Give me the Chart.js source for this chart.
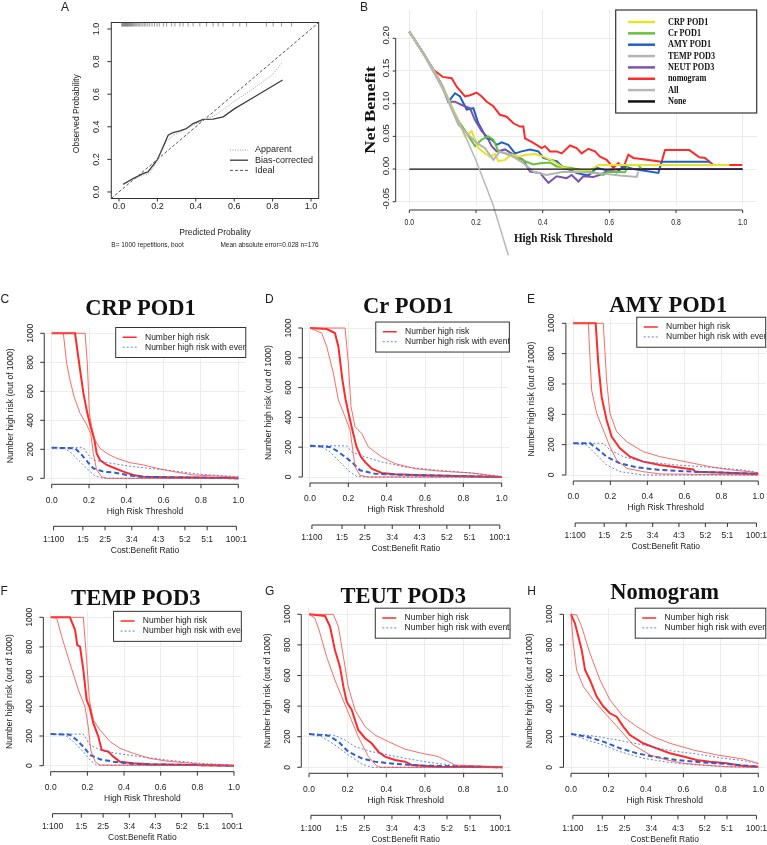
<!DOCTYPE html>
<html>
<head>
<meta charset="utf-8">
<title>Calibration, decision curve and clinical impact curves</title>
<script src="https://cdn.jsdelivr.net/npm/chart.js"></script>
<style>
body { margin: 0; background: #fff; width: 767px; height: 845px; position: relative; overflow: hidden; }
canvas { position: absolute; }
</style>
</head>
<body>
<canvas id="calChart"></canvas>
<canvas id="nbChart"></canvas>
<canvas id="cicC"></canvas>
<canvas id="cicD"></canvas>
<canvas id="cicE"></canvas>
<canvas id="cicF"></canvas>
<canvas id="cicG"></canvas>
<canvas id="cicH"></canvas>
<script>
// ---- data: panel A, calibration ----
var probTicks = [0, 0.2, 0.4, 0.6, 0.8, 1];
var probLabels = ["0.0", "0.2", "0.4", "0.6", "0.8", "1.0"];
var idealLine = [[-0.04, -0.04], [1.04, 1.04]];
var apparentCurve = [[0.021, 0.045], [0.073, 0.078], [0.125, 0.102], [0.16, 0.113], [0.2, 0.195], [0.247, 0.307], [0.282, 0.348], [0.325, 0.369], [0.369, 0.4], [0.421, 0.43], [0.5, 0.47], [0.6, 0.555], [0.7, 0.635], [0.8, 0.72], [0.847, 0.789]];
var biasCurve = [[0.021, 0.047], [0.073, 0.082], [0.125, 0.113], [0.151, 0.123], [0.2, 0.199], [0.23, 0.277], [0.256, 0.348], [0.282, 0.365], [0.317, 0.375], [0.351, 0.389], [0.386, 0.42], [0.438, 0.445], [0.49, 0.447], [0.543, 0.461], [0.6, 0.51], [0.7, 0.58], [0.8, 0.65], [0.852, 0.687]];
var rugPred = [0.014, 0.018, 0.022, 0.025, 0.028, 0.032, 0.035, 0.038, 0.041, 0.045, 0.048, 0.052, 0.055, 0.06, 0.064, 0.068, 0.072, 0.077, 0.082, 0.088, 0.094, 0.1, 0.108, 0.115, 0.124, 0.132, 0.14, 0.15, 0.16, 0.172, 0.185, 0.198, 0.21, 0.231, 0.248, 0.274, 0.291, 0.317, 0.334, 0.36, 0.386, 0.421, 0.456, 0.49, 0.516, 0.542, 0.594, 0.629, 0.664, 0.768, 0.803, 0.846, 0.898];
var calLegend = ["Apparent", "Bias-corrected", "Ideal"];

// ---- data: panel B, net benefit ----
var nbTicks = [-0.05, 0, 0.05, 0.1, 0.15, 0.2];
var nbLabels = ["-0.05", "0.00", "0.05", "0.10", "0.15", "0.20"];
var nbSeriesNames = ["CRP POD1", "Cr POD1", "AMY POD1", "TEMP POD3", "NEUT POD3", "nomogram", "All", "None"];
var crpNB = [[0, 0.21], [0.042, 0.177], [0.072, 0.152], [0.1, 0.126], [0.122, 0.101], [0.142, 0.08], [0.167, 0.05], [0.187, 0.058], [0.207, 0.032], [0.227, 0.024], [0.242, 0.019], [0.257, 0.023], [0.267, 0.012], [0.287, 0.014], [0.307, 0.022], [0.327, 0.019], [0.352, 0.022], [0.377, 0.023], [0.402, 0.019], [0.432, 0.012], [0.462, 0.002], [0.497, -0.001], [0.542, -0.002], [0.567, 0.006], [0.96, 0.006]];
var crNB = [[0, 0.21], [0.042, 0.177], [0.072, 0.152], [0.1, 0.126], [0.122, 0.101], [0.142, 0.078], [0.172, 0.055], [0.197, 0.035], [0.217, 0.045], [0.237, 0.05], [0.252, 0.045], [0.267, 0.027], [0.287, 0.024], [0.312, 0.019], [0.337, 0.014], [0.357, 0.01], [0.372, 0.007], [0.392, 0.009], [0.422, 0.01], [0.442, 0.004], [0.482, 0.002], [0.542, -0.004], [0.582, -0.009], [0.597, -0.004], [0.647, -0.005], [0.657, 0.006], [0.687, 0.006], [0.697, 0]];
var amyNB = [[0, 0.21], [0.042, 0.177], [0.072, 0.152], [0.1, 0.126], [0.117, 0.103], [0.137, 0.116], [0.152, 0.111], [0.172, 0.091], [0.192, 0.093], [0.207, 0.07], [0.232, 0.047], [0.247, 0.045], [0.262, 0.037], [0.277, 0.041], [0.297, 0.037], [0.317, 0.024], [0.337, 0.027], [0.362, 0.03], [0.387, 0.027], [0.402, 0.017], [0.422, 0.014], [0.442, 0.012], [0.462, 0.002], [0.482, -0.001], [0.502, -0.006], [0.537, -0.01], [0.562, 0.002], [0.592, -0.002], [0.622, -0.005], [0.642, 0.004], [0.672, 0], [0.747, -0.006], [0.757, 0.011], [0.902, 0.011]];
var tempNB = [[0, 0.21], [0.042, 0.177], [0.072, 0.152], [0.1, 0.126], [0.127, 0.091], [0.147, 0.068], [0.172, 0.055], [0.202, 0.04], [0.227, 0.032], [0.252, 0.014], [0.272, 0.027], [0.302, 0.022], [0.342, 0.009], [0.372, -0.004], [0.412, -0.009], [0.462, -0.004], [0.522, -0.005], [0.582, -0.007], [0.632, -0.01], [0.682, -0.012], [0.687, -0.004]];
var neutNB = [[0, 0.21], [0.042, 0.177], [0.062, 0.159], [0.092, 0.134], [0.117, 0.103], [0.137, 0.103], [0.157, 0.098], [0.182, 0.093], [0.197, 0.075], [0.217, 0.058], [0.232, 0.05], [0.247, 0.035], [0.262, 0.027], [0.287, 0.03], [0.312, 0.022], [0.342, 0.014], [0.362, -0.004], [0.392, -0.006], [0.417, -0.021], [0.442, -0.011], [0.472, -0.014], [0.487, -0.009], [0.507, -0.019], [0.522, -0.011], [0.552, -0.012], [0.572, -0.009], [0.602, -0.001], [0.642, 0], [1, 0]];
var nomoNB = [[0, 0.21], [0.042, 0.177], [0.072, 0.152], [0.1, 0.141], [0.127, 0.139], [0.142, 0.126], [0.167, 0.111], [0.182, 0.113], [0.202, 0.117], [0.217, 0.111], [0.232, 0.103], [0.252, 0.096], [0.272, 0.083], [0.292, 0.08], [0.312, 0.07], [0.332, 0.065], [0.342, 0.065], [0.347, 0.047], [0.372, 0.04], [0.397, 0.032], [0.407, 0.035], [0.422, 0.027], [0.442, 0.027], [0.457, 0.024], [0.482, 0.036], [0.502, 0.032], [0.517, 0.024], [0.537, 0.031], [0.557, 0.027], [0.572, 0.019], [0.592, 0.014], [0.612, 0.002], [0.627, 0.009], [0.642, 0.002], [0.657, 0.022], [0.672, 0.017], [0.702, 0.015], [0.757, 0.011], [0.767, 0.029], [0.84, 0.029], [0.87, 0.018], [0.887, 0.017], [0.912, 0.006], [0.999, 0.006]];
var allNB = [[0, 0.21], [0.05, 0.168], [0.1, 0.122], [0.15, 0.071], [0.2, 0.013], [0.25, -0.053], [0.297, -0.132]];
var noneNB = [[0, 0], [1, 0]];

// ---- data: panels C-H, clinical impact ----
var thresholdTicks = [0, 0.2, 0.4, 0.6, 0.8, 1];
var thresholdLabels = ["0.0", "0.2", "0.4", "0.6", "0.8", "1.0"];
var riskTicks = [0, 200, 400, 600, 800, 1000];
var riskLabels = ["0", "200", "400", "600", "800", "1000"];
var costBenefitAt = [0.01, 0.167, 0.286, 0.429, 0.571, 0.714, 0.833, 0.99];
var costBenefitLabels = ["1:100", "1:5", "2:5", "3:4", "4:3", "5:2", "5:1", "100:1"];
var cicLegend = ["Number high risk", "Number high risk with event"];

var crpRisk = [[0, 1000], [0.125, 1000], [0.152, 747], [0.17, 586], [0.191, 448], [0.209, 356], [0.229, 264], [0.241, 172], [0.259, 126], [0.295, 92], [0.339, 69], [0.384, 46], [0.437, 23], [0.491, 11], [0.616, 7], [0.795, 5], [1, 0]];
var crpRiskHi = [[0, 1000], [0.179, 1000], [0.191, 793], [0.202, 448], [0.214, 356], [0.232, 264], [0.259, 207], [0.295, 172], [0.348, 138], [0.42, 108], [0.491, 92], [0.563, 69], [0.652, 46], [0.759, 23], [0.884, 16], [1, 7]];
var crpRiskLo = [[0, 1000], [0.0625, 1000], [0.08, 793], [0.098, 678], [0.12, 563], [0.152, 448], [0.184, 379], [0.209, 310], [0.223, 172], [0.241, 57], [0.268, 11], [0.295, 0], [1, 0]];
var crpEvent = [[0, 211], [0.125, 207], [0.161, 161], [0.191, 115], [0.223, 69], [0.277, 46], [0.339, 39], [0.402, 23], [0.473, 11], [0.616, 7], [1, 0]];
var crpEventHi = [[0, 211], [0.17, 211], [0.196, 161], [0.223, 126], [0.295, 108], [0.437, 80], [0.616, 57], [0.795, 28], [1, 11]];
var crpEventLo = [[0, 211], [0.071, 207], [0.107, 172], [0.152, 115], [0.196, 57], [0.232, 16], [0.277, 0], [1, 0]];

var crRisk = [[0, 1000], [0.087, 993], [0.13, 966], [0.148, 876], [0.169, 652], [0.186, 517], [0.205, 404], [0.221, 315], [0.243, 202], [0.266, 135], [0.287, 101], [0.322, 56], [0.374, 27], [0.443, 18], [0.583, 11], [0.757, 7], [1, 0]];
var crRiskHi = [[0, 1000], [0.183, 1000], [0.2, 764], [0.214, 472], [0.235, 337], [0.27, 292], [0.304, 202], [0.374, 135], [0.443, 90], [0.548, 56], [0.67, 40], [0.843, 27], [1, 0]];
var crRiskLo = [[0, 1000], [0.061, 966], [0.087, 876], [0.122, 697], [0.148, 517], [0.183, 404], [0.209, 315], [0.221, 202], [0.235, 67], [0.261, 11], [0.304, 0], [1, 0]];
var crEvent = [[0, 209], [0.104, 202], [0.148, 169], [0.183, 135], [0.217, 101], [0.261, 45], [0.339, 22], [0.443, 16], [0.617, 11], [1, 0]];
var crEventHi = [[0, 209], [0.191, 209], [0.217, 169], [0.287, 135], [0.374, 101], [0.496, 67], [0.67, 45], [0.843, 27], [1, 4]];
var crEventLo = [[0, 209], [0.061, 202], [0.104, 169], [0.165, 90], [0.209, 34], [0.243, 4], [0.3, 0], [1, 0]];

var amyRisk = [[0, 1000], [0.121, 1000], [0.135, 736], [0.153, 516], [0.18, 363], [0.207, 253], [0.252, 176], [0.306, 121], [0.378, 88], [0.468, 66], [0.559, 51], [0.649, 37], [0.658, 22], [0.829, 15], [1, 7]];
var amyRiskHi = [[0, 1000], [0.162, 1000], [0.18, 626], [0.198, 407], [0.234, 286], [0.288, 220], [0.378, 154], [0.468, 121], [0.559, 99], [0.649, 77], [0.739, 55], [0.829, 37], [1, 15]];
var amyRiskLo = [[0, 1000], [0.081, 1000], [0.099, 560], [0.126, 407], [0.162, 297], [0.198, 187], [0.234, 99], [0.288, 44], [0.378, 22], [0.468, 7], [1, 0]];
var amyEvent = [[0, 209], [0.09, 209], [0.126, 176], [0.18, 121], [0.252, 77], [0.342, 51], [0.468, 33], [0.649, 22], [0.829, 15], [1, 7]];
var amyEventHi = [[0, 209], [0.162, 209], [0.198, 165], [0.27, 121], [0.378, 88], [0.559, 66], [0.739, 51], [0.919, 33], [1, 15]];
var amyEventLo = [[0, 209], [0.072, 198], [0.126, 132], [0.18, 66], [0.252, 22], [0.378, 0], [1, 0]];

var tempRisk = [[0, 1000], [0.105, 1000], [0.133, 915], [0.145, 813], [0.16, 802], [0.178, 645], [0.196, 443], [0.211, 398], [0.233, 285], [0.26, 196], [0.278, 106], [0.315, 94], [0.342, 61], [0.378, 27], [0.451, 16], [0.542, 9], [1, 0]];
var tempRiskHi = [[0, 1000], [0.178, 1000], [0.196, 712], [0.211, 443], [0.233, 308], [0.269, 240], [0.324, 162], [0.378, 117], [0.451, 83], [0.542, 49], [0.633, 31], [0.815, 11], [1, 0]];
var tempRiskLo = [[0, 1000], [0.033, 993], [0.06, 870], [0.105, 690], [0.151, 510], [0.187, 398], [0.205, 263], [0.218, 106], [0.242, 27], [0.269, 4], [1, 0]];
var tempEvent = [[0, 213], [0.105, 209], [0.142, 173], [0.178, 128], [0.215, 72], [0.269, 43], [0.342, 27], [0.451, 11], [1, 0]];
var tempEventHi = [[0, 213], [0.178, 213], [0.215, 139], [0.269, 106], [0.36, 83], [0.487, 61], [0.633, 38], [0.815, 16], [1, 4]];
var tempEventLo = [[0, 213], [0.078, 207], [0.124, 162], [0.178, 94], [0.215, 38], [0.251, 4], [1, 0]];

var neutRisk = [[0, 1000], [0.083, 989], [0.109, 919], [0.134, 767], [0.16, 658], [0.178, 527], [0.195, 429], [0.221, 375], [0.255, 244], [0.29, 190], [0.324, 157], [0.359, 102], [0.393, 70], [0.445, 48], [0.497, 37], [0.531, 15], [0.669, 4], [1, 0]];
var neutRiskHi = [[0, 1000], [0.126, 1000], [0.152, 919], [0.178, 723], [0.203, 527], [0.238, 375], [0.29, 266], [0.341, 211], [0.41, 168], [0.497, 118], [0.583, 92], [0.669, 70], [0.721, 37], [0.755, 15], [1, 4]];
var neutRiskLo = [[0, 1000], [0.031, 974], [0.057, 876], [0.091, 723], [0.134, 571], [0.169, 462], [0.212, 331], [0.255, 200], [0.307, 70], [0.35, 9], [0.37, 0], [1, 0]];
var neutEvent = [[0, 218], [0.1, 207], [0.152, 168], [0.203, 102], [0.272, 59], [0.341, 37], [0.445, 22], [0.583, 11], [1, 0]];
var neutEventHi = [[0, 218], [0.126, 211], [0.186, 179], [0.238, 135], [0.324, 102], [0.41, 81], [0.497, 59], [0.617, 33], [0.755, 11], [1, 0]];
var neutEventLo = [[0, 218], [0.066, 200], [0.134, 146], [0.203, 81], [0.272, 22], [0.324, 0], [1, 0]];

var nomoRisk = [[0, 1000], [0.021, 941], [0.044, 832], [0.057, 767], [0.075, 636], [0.101, 571], [0.137, 462], [0.173, 397], [0.208, 353], [0.244, 331], [0.279, 266], [0.315, 211], [0.386, 157], [0.457, 124], [0.528, 92], [0.6, 70], [0.671, 48], [0.742, 37], [0.831, 26], [0.92, 9], [1, 4]];
var nomoRiskHi = [[0, 1000], [0.03, 996], [0.057, 919], [0.101, 745], [0.155, 571], [0.208, 440], [0.279, 331], [0.351, 266], [0.439, 200], [0.528, 157], [0.653, 113], [0.778, 81], [0.92, 54], [1, 26]];
var nomoRiskLo = [[0, 1000], [0.012, 810], [0.03, 636], [0.066, 527], [0.119, 440], [0.19, 342], [0.262, 244], [0.333, 146], [0.422, 81], [0.511, 48], [0.6, 26], [0.706, 15], [0.831, 4], [1, 0]];
var nomoEvent = [[0, 218], [0.084, 200], [0.173, 168], [0.262, 124], [0.351, 92], [0.439, 70], [0.564, 48], [0.706, 31], [0.831, 22], [1, 4]];
var nomoEventHi = [[0, 218], [0.119, 205], [0.244, 179], [0.386, 146], [0.528, 109], [0.671, 87], [0.813, 59], [0.92, 44], [1, 22]];
var nomoEventLo = [[0, 218], [0.084, 179], [0.173, 146], [0.262, 102], [0.386, 59], [0.528, 31], [0.671, 15], [0.831, 4], [1, 0]];

// ---- helpers ----
var SANS = "'Liberation Sans', Arial, sans-serif";
var SERIF = "'Liberation Serif', 'Times New Roman', serif";
var INK = "#222";

function pts(a) { return a.map(function (p) { return { x: p[0], y: p[1] }; }); }

function ds(data, color, width, dash, extra) {
	var d = { data: pts(data), borderColor: color, borderWidth: width, borderDash: dash || [], pointRadius: 0, tension: 0, fill: false };
	if (extra) { for (var k in extra) d[k] = extra[k]; }
	return d;
}

function txt(ctx, s, x, y, font, opt) {
	opt = opt || {};
	ctx.save();
	ctx.font = font;
	ctx.fillStyle = opt.color || INK;
	ctx.textAlign = opt.align || "center";
	ctx.textBaseline = opt.base || "middle";
	ctx.translate(x, y);
	if (opt.rot) ctx.rotate(opt.rot);
	if (opt.sx) ctx.scale(opt.sx, 1);
	ctx.fillText(s, 0, 0);
	ctx.restore();
}

function seg(ctx, x1, y1, x2, y2, color, w, dash) {
	ctx.save();
	ctx.strokeStyle = color || "#333";
	ctx.lineWidth = w || 1;
	ctx.setLineDash(dash || []);
	ctx.beginPath();
	ctx.moveTo(x1, y1);
	ctx.lineTo(x2, y2);
	ctx.stroke();
	ctx.restore();
}

// R style axes: the line runs from first to last tick only
function axisX(ctx, scale, at, labels, y, tick, labelY, font, sx) {
	var a = scale.getPixelForValue(at[0]), b = scale.getPixelForValue(at[at.length - 1]);
	seg(ctx, a, y, b, y, "#333", 1);
	at.forEach(function (v, i) {
		var p = scale.getPixelForValue(v);
		seg(ctx, p, y, p, y + tick, "#333", 1);
		txt(ctx, labels[i], p, labelY, font, { sx: sx });
	});
}

function axisY(ctx, scale, at, labels, x, tick, labelX, font, dy) {
	var a = scale.getPixelForValue(at[0]), b = scale.getPixelForValue(at[at.length - 1]);
	seg(ctx, x, a, x, b, "#333", 1);
	at.forEach(function (v, i) {
		var p = scale.getPixelForValue(v);
		seg(ctx, x - tick, p, x, p, "#333", 1);
		txt(ctx, labels[i], labelX, p + (dy || 0), font, { rot: -Math.PI / 2 });
	});
}

function place(id, left, top, w, h) {
	var cv = document.getElementById(id);
	cv.width = w; cv.height = h;
	cv.style.left = left + "px"; cv.style.top = top + "px";
	cv.style.width = w + "px"; cv.style.height = h + "px";
	return cv;
}

function baseOptions(pad, scales) {
	return {
		responsive: false, animation: false, devicePixelRatio: 1, events: [],
		layout: { padding: pad },
		plugins: { legend: { display: false }, tooltip: { enabled: false } },
		scales: scales
	};
}

function gridScale(min, max, ticks, color) {
	return {
		type: "linear", min: min, max: max,
		afterBuildTicks: function (s) { s.ticks = ticks.map(function (v) { return { value: v }; }); },
		ticks: { display: false }, border: { display: false },
		grid: { display: !!color, color: color || "#eee", lineWidth: 1, drawTicks: false }
	};
}

// ---- panel A ----
var calCanvas = place("calChart", 0, 0, 360, 255);
var calDeco = {
	id: "calDeco",
	afterDraw: function (c) {
		var ctx = c.ctx, a = c.chartArea, xs = c.scales.x, ys = c.scales.y;
		ctx.save();
		ctx.strokeStyle = "#333"; ctx.lineWidth = 1;
		ctx.strokeRect(a.left, a.top, a.right - a.left, a.bottom - a.top);
		ctx.restore();
		rugPred.forEach(function (v) {
			var p = xs.getPixelForValue(v);
			seg(ctx, p, a.top, p, a.top + 4, "#555", 0.6);
		});
		probTicks.forEach(function (v, i) {
			var p = xs.getPixelForValue(v);
			seg(ctx, p, a.bottom, p, a.bottom + 3, "#333", 1);
			txt(ctx, probLabels[i], p, a.bottom + 8, "9px " + SANS);
			var q = ys.getPixelForValue(v);
			seg(ctx, a.left - 4, q, a.left, q, "#333", 1);
			txt(ctx, probLabels[i], a.left - 15, q, "9px " + SANS, { rot: -Math.PI / 2 });
		});
		txt(ctx, "Predicted Probality", xs.getPixelForValue(0.5), 233, "8.5px " + SANS);
		txt(ctx, "Observed Probability", 77, ys.getPixelForValue(0.48), "8.5px " + SANS, { rot: -Math.PI / 2 });
		txt(ctx, "B= 1000 repetitions, boot", a.left, 245, "6.5px " + SANS, { align: "left" });
		txt(ctx, "Mean absolute error=0.028 n=176", a.right, 245, "6.5px " + SANS, { align: "right" });
		txt(ctx, "A", 65, 8, "12px " + SANS);
		var styles = [["#999", 1, [1, 1.5]], ["#3c3c3c", 1.3, []], ["#555", 1, [3, 2]]];
		calLegend.forEach(function (n, i) {
			var y = 150 + i * 10.2;
			seg(ctx, 230, y, 248, y, styles[i][0], styles[i][1], styles[i][2]);
			txt(ctx, n, 255, y, "9px " + SANS, { align: "left" });
		});
	}
};
new Chart(calCanvas, {
	type: "line",
	data: { datasets: [
		ds(idealLine, "#555", 1, [3, 2]),
		ds(apparentCurve, "#9a9a9a", 1, [1, 1.5]),
		ds(biasCurve, "#3c3c3c", 1.3)
	] },
	options: baseOptions({ left: 111.3, right: 41.3, top: 22.5, bottom: 56.5 }, {
		x: { type: "linear", min: -0.04, max: 1.04, display: false },
		y: { type: "linear", min: -0.04, max: 1.04, display: false }
	}),
	plugins: [calDeco]
});

// ---- panel B ----
var nbLeft = 355;
var nbCanvas = place("nbChart", nbLeft, 0, 412, 265);
var nbColors = ["#e4e42a", "#66c23a", "#2060c0", "#b4b4b4", "#7b52b0", "#ff2b2b", "#b8b8b8", "#111"];
var nbDeco = {
	id: "nbDeco",
	afterDatasetsDraw: function (c) {
		var ctx = c.ctx;
		var L = 615.7 - nbLeft, R = 756.7 - nbLeft, T = 10, B = 113;
		ctx.save();
		ctx.fillStyle = "#fff"; ctx.fillRect(L, T, R - L, B - T);
		ctx.strokeStyle = "#333"; ctx.lineWidth = 1.2; ctx.strokeRect(L, T, R - L, B - T);
		ctx.restore();
		nbSeriesNames.forEach(function (n, i) {
			var y = 22 + i * 11.35;
			seg(ctx, 628 - nbLeft, y, 655 - nbLeft, y, nbColors[i], 2.5);
			txt(ctx, n, 668 - nbLeft, y, "bold 10px " + SERIF, { align: "left", sx: 0.82, color: "#111" });
		});
	},
	afterDraw: function (c) {
		var ctx = c.ctx, a = c.chartArea, xs = c.scales.x, ys = c.scales.y;
		axisY(ctx, ys, nbTicks, nbLabels, a.left, 3, a.left - 9, "9.5px " + SANS, -3);
		axisX(ctx, xs, thresholdTicks, thresholdLabels, 210, 3, 222, "9.5px " + SANS, 0.72);
		txt(ctx, "High Risk Threshold", xs.getPixelForValue(0.462), 239, "bold 13.5px " + SERIF, { sx: 0.82, color: "#111" });
		txt(ctx, "Net Benefit", 371.7 - nbLeft, 110, "bold 14px " + SERIF, { rot: -Math.PI / 2, sx: 1.3, color: "#111" });
		txt(ctx, "B", 360 - nbLeft, 8, "12px " + SANS, { align: "left" });
	}
};
new Chart(nbCanvas, {
	type: "line",
	data: { datasets: [
		ds(allNB, nbColors[6], 1.5, [], { clip: { left: 0, top: 0, right: 0, bottom: false } }),
		ds(noneNB, nbColors[7], 1.2),
		ds(tempNB, nbColors[3], 2),
		ds(crpNB, nbColors[0], 2),
		ds(crNB, nbColors[1], 2),
		ds(neutNB, nbColors[4], 2),
		ds(amyNB, nbColors[2], 2),
		ds(nomoNB, nbColors[5], 2)
	] },
	options: baseOptions({ left: 395.7 - nbLeft, right: 10, top: 10, bottom: 60 }, {
		x: gridScale(-0.041, 1.043, thresholdTicks, "#ebebeb"),
		y: gridScale(-0.055, 0.2433, nbTicks, "#ebebeb")
	}),
	plugins: [nbDeco]
});

// ---- panels C-H ----
var cicPanels = [
	{ id: "cicC", letter: "C", title: "CRP POD1", left: 0, top: 285, w: 255, h: 275, x0: 51.7, x1: 238.3, y0: 478.3, y1: 333.3, lx: 0.5, ly: 300, tx: 140.5, ty: 315, sets: [crpRiskHi, crpRiskLo, crpRisk, crpEventHi, crpEventLo, crpEvent] },
	{ id: "cicD", letter: "D", title: "Cr POD1", left: 255, top: 285, w: 257, h: 275, x0: 310, x1: 501.7, y0: 477, y1: 328, lx: 265, ly: 300, tx: 408.3, ty: 313.3, sets: [crRiskHi, crRiskLo, crRisk, crEventHi, crEventLo, crEvent] },
	{ id: "cicE", letter: "E", title: "AMY POD1", left: 510, top: 285, w: 257, h: 275, x0: 573.3, x1: 758.3, y0: 475, y1: 323.3, lx: 527, ly: 300, tx: 668.3, ty: 311.7, sets: [amyRiskHi, amyRiskLo, amyRisk, amyEventHi, amyEventLo, amyEvent] },
	{ id: "cicF", letter: "F", title: "TEMP POD3", left: 0, top: 575, w: 255, h: 270, x0: 50.7, x1: 234, y0: 765.7, y1: 617.3, lx: 0.5, ly: 592, tx: 135.8, ty: 605, sets: [tempRiskHi, tempRiskLo, tempRisk, tempEventHi, tempEventLo, tempEvent] },
	{ id: "cicG", letter: "G", title: "TEUT POD3", left: 255, top: 575, w: 257, h: 270, x0: 309, x1: 502.3, y0: 767.3, y1: 614.3, lx: 265, ly: 592, tx: 403.3, ty: 602.7, sets: [neutRiskHi, neutRiskLo, neutRisk, neutEventHi, neutEventLo, neutEvent] },
	{ id: "cicH", letter: "H", title: "Nomogram", left: 510, top: 575, w: 257, h: 270, x0: 571, x1: 758.3, y0: 767.3, y1: 614.3, lx: 527.3, ly: 592, tx: 664.7, ty: 599.3, sets: [nomoRiskHi, nomoRiskLo, nomoRisk, nomoEventHi, nomoEventLo, nomoEvent] }
];

var RED = "#ff2a2a", RED_CI = "rgba(255,70,60,0.8)", BLUE = "#2d5fcc", BLUE_CI = "rgba(50,90,215,0.75)";
var F = "8.5px " + SANS;

function cicDeco(p) {
	return {
		id: "cicDeco",
		afterDatasetsDraw: function (c) {
			var ctx = c.ctx, a = c.chartArea, xs = c.scales.x;
			var L = xs.getPixelForValue(0.343), T = a.top, R = a.right, H = 30;
			ctx.save();
			ctx.fillStyle = "#fff"; ctx.fillRect(L, T, R - L, H);
			ctx.strokeStyle = "#333"; ctx.lineWidth = 1; ctx.strokeRect(L, T, R - L, H);
			ctx.beginPath(); ctx.rect(L, T, R - L, H); ctx.clip();
			seg(ctx, L + 7, T + 9.7, L + 21, T + 9.7, RED, 1.5);
			seg(ctx, L + 7, T + 19.7, L + 21, T + 19.7, BLUE_CI, 1, [2, 2]);
			txt(ctx, cicLegend[0], L + 29.3, T + 9.7, F, { align: "left" });
			txt(ctx, cicLegend[1], L + 29.3, T + 19.7, F, { align: "left" });
			ctx.restore();
		},
		afterDraw: function (c) {
			var ctx = c.ctx, a = c.chartArea, xs = c.scales.x, ys = c.scales.y;
			var yb = ys.getPixelForValue(0), xl = xs.getPixelForValue(0), xm = xs.getPixelForValue(0.5);
			axisX(ctx, xs, thresholdTicks, thresholdLabels, yb + 6, 4, yb + 22, F);
			txt(ctx, "High Risk Threshold", xm, yb + 33, F);
			axisX(ctx, xs, costBenefitAt, costBenefitLabels, yb + 48, 4, yb + 61, F);
			txt(ctx, "Cost:Benefit Ratio", xm, yb + 72, F);
			axisY(ctx, ys, riskTicks, riskLabels, a.left, 4, xl - 21.5, F);
			txt(ctx, "Number high risk (out of 1000)", xl - 41.5, ys.getPixelForValue(500), F, { rot: -Math.PI / 2 });
			txt(ctx, p.title, p.tx - p.left, p.ty - p.top, "bold 22.5px " + SERIF, { base: "alphabetic", color: "#111" });
			txt(ctx, p.letter, p.lx - p.left, p.ly - p.top, "12px " + SANS, { align: "left" });
		}
	};
}

cicPanels.forEach(function (p) {
	var sx = p.x1 - p.x0, sy = p.y0 - p.y1;
	var cv = place(p.id, p.left, p.top, p.w, p.h);
	var pad = {
		left: p.x0 - 0.04 * sx - p.left,
		right: p.left + p.w - (p.x1 + 0.04 * sx),
		top: p.y1 - 0.04 * sy - p.top,
		bottom: p.top + p.h - (p.y0 + 0.04 * sy)
	};
	new Chart(cv, {
		type: "line",
		data: { datasets: [
			ds(p.sets[0], RED_CI, 1),
			ds(p.sets[1], RED_CI, 1),
			ds(p.sets[3], BLUE_CI, 1, [2, 2]),
			ds(p.sets[4], BLUE_CI, 1, [2, 2]),
			ds(p.sets[5], BLUE, 2, [5, 3]),
			ds(p.sets[2], RED, 2)
		] },
		options: baseOptions(pad, {
			x: gridScale(-0.04, 1.04, thresholdTicks, "#ececec"),
			y: gridScale(-40, 1040, riskTicks, "#ececec")
		}),
		plugins: [cicDeco(p)]
	});
});
</script>
</body>
</html>
